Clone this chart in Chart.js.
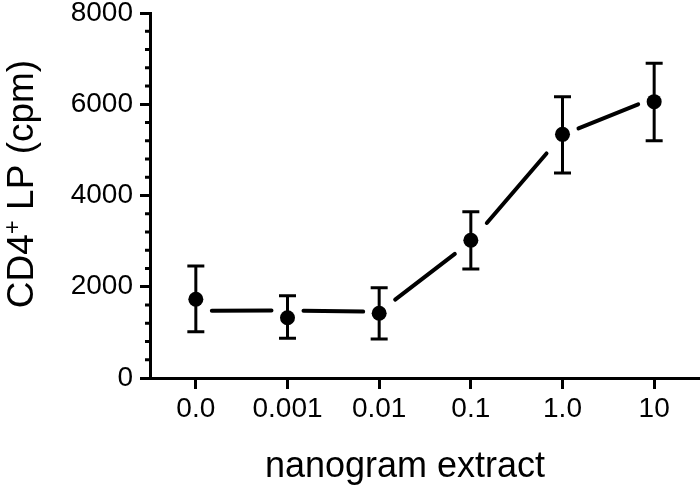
<!DOCTYPE html>
<html>
<head>
<meta charset="utf-8">
<script src="https://cdn.jsdelivr.net/npm/chart.js@4/dist/chart.umd.min.js"></script>
<style>
  html, body { margin: 0; padding: 0; background: #fff; }
  #wrap { width: 700px; height: 490px; }
</style>
</head>
<body>
<div id="wrap"><canvas id="chart" width="700" height="490"></canvas></div>
<script>
const doses = ['0.0', '0.001', '0.01', '0.1', '1.0', '10'];
const meanCpm = [1725, 1322, 1418, 3018, 5341, 6057];
const upperCpm = [2455, 1804, 1979, 3645, 6166, 6897];
const lowerCpm = [1015, 870, 855, 2389, 4493, 5201];
// connecting line (drawn with gaps around the points)
const lineCpm = [1475, 1480, 1450, 2990, 5330, 6140];
const yTicks = [0, 2000, 4000, 6000, 8000];
const yMinorTicks = [400, 800, 1200, 1600, 2400, 2800, 3200, 3600, 4400, 4800, 5200, 5600, 6400, 6800, 7200, 7600];

const FONT = '"Liberation Sans", Arial, sans-serif';

const prismPlugin = {
    id: 'prism',
    beforeDatasetsDraw(chart) {
        const ctx = chart.ctx;
        const xs = chart.scales.x;
        const ys = chart.scales.y;
        const gap = 16;
        ctx.save();
        ctx.strokeStyle = '#000';
        ctx.lineCap = 'round';
        ctx.lineWidth = 4;
        for (let i = 0; i < lineCpm.length - 1; i++) {
            const x0 = xs.getPixelForValue(i), y0 = ys.getPixelForValue(lineCpm[i]);
            const x1 = xs.getPixelForValue(i + 1), y1 = ys.getPixelForValue(lineCpm[i + 1]);
            const t = gap / (x1 - x0);
            ctx.beginPath();
            ctx.moveTo(x0 + (x1 - x0) * t, y0 + (y1 - y0) * t);
            ctx.lineTo(x1 - (x1 - x0) * t, y1 - (y1 - y0) * t);
            ctx.stroke();
        }
        // error bars
        ctx.lineCap = 'butt';
        ctx.lineWidth = 3;
        for (let i = 0; i < meanCpm.length; i++) {
            const x = xs.getPixelForValue(i);
            const yu = ys.getPixelForValue(upperCpm[i]);
            const yl = ys.getPixelForValue(lowerCpm[i]);
            ctx.beginPath();
            ctx.moveTo(x, yu); ctx.lineTo(x, yl);
            ctx.moveTo(x - 8.5, yu); ctx.lineTo(x + 8.5, yu);
            ctx.moveTo(x - 8.5, yl); ctx.lineTo(x + 8.5, yl);
            ctx.stroke();
        }
        ctx.restore();
    },
    afterDraw(chart) {
        const ctx = chart.ctx;
        const ys = chart.scales.y;
        const left = chart.chartArea.left;
        ctx.save();
        // minor ticks on y axis
        ctx.strokeStyle = '#000';
        ctx.lineWidth = 3;
        yMinorTicks.forEach(v => {
            const y = ys.getPixelForValue(v);
            ctx.beginPath();
            ctx.moveTo(left - 5, y);
            ctx.lineTo(left, y);
            ctx.stroke();
        });

        // y title with superscript +
        ctx.fillStyle = '#000';
        const big = '37px ' + FONT, small = '24px ' + FONT;
        const p1 = 'CD4', p2 = '+', p3 = ' LP (cpm)';
        ctx.font = big;
        const w1 = ctx.measureText(p1).width, w3 = ctx.measureText(p3).width;
        ctx.font = small;
        const w2 = ctx.measureText(p2).width;
        const total = w1 + w2 + w3;
        ctx.translate(33, 184);
        ctx.rotate(-Math.PI / 2);
        ctx.textBaseline = 'alphabetic';
        ctx.textAlign = 'left';
        let x = -total / 2;
        ctx.font = big;
        ctx.fillText(p1, x, 0);
        x += w1;
        ctx.font = small;
        ctx.fillText(p2, x, -13);
        x += w2;
        ctx.font = big;
        ctx.fillText(p3, x, 0);
        ctx.restore();

        // x title
        ctx.save();
        ctx.fillStyle = '#000';
        ctx.font = '36px ' + FONT;
        ctx.textAlign = 'center';
        ctx.textBaseline = 'alphabetic';
        ctx.fillText('nanogram extract', 405, 477);
        ctx.restore();
    }
};

const ctx = document.getElementById('chart').getContext('2d');
const chart = new Chart(ctx, {
    type: 'line',
    data: {
        labels: doses,
        datasets: [{
            label: 'CD4+ LP',
            data: meanCpm,
            showLine: false,
            pointRadius: 7.5,
            pointBackgroundColor: '#000',
            pointBorderColor: '#000',
            pointBorderWidth: 0
        }]
    },
    options: {
        responsive: false,
        animation: false,
        devicePixelRatio: 1,
        layout: { autoPadding: false, padding: { left: 0, right: 0, top: 0, bottom: 0 } },
        plugins: {
            legend: { display: false },
            tooltip: { enabled: false }
        },
        scales: {
            x: {
                type: 'category',
                offset: true,
                grid: {
                    offset: false,
                    drawOnChartArea: false,
                    tickLength: 11,
                    tickWidth: 3,
                    tickColor: '#000'
                },
                border: { color: '#000', width: 3 },
                ticks: {
                    color: '#000',
                    font: { family: FONT, size: 28, lineHeight: 1 },
                    padding: 6,
                    maxRotation: 0
                },
                afterFit: s => {
                    s.height = 112;
                    s.paddingLeft = 0;
                    s.paddingRight = 0;
                }
            },
            y: {
                min: 0,
                max: 8000,
                afterBuildTicks: s => { s.ticks = yTicks.map(v => ({ value: v })); },
                grid: {
                    drawOnChartArea: false,
                    tickLength: 10,
                    tickWidth: 3,
                    tickColor: '#000'
                },
                border: { color: '#000', width: 3 },
                ticks: {
                    color: '#000',
                    font: { family: FONT, size: 28, lineHeight: 0.43 },
                    padding: 7,
                    callback: v => String(v)
                },
                afterFit: s => { s.width = 150; }
            }
        }
    },
    plugins: [prismPlugin]
});
</script>
</body>
</html>
